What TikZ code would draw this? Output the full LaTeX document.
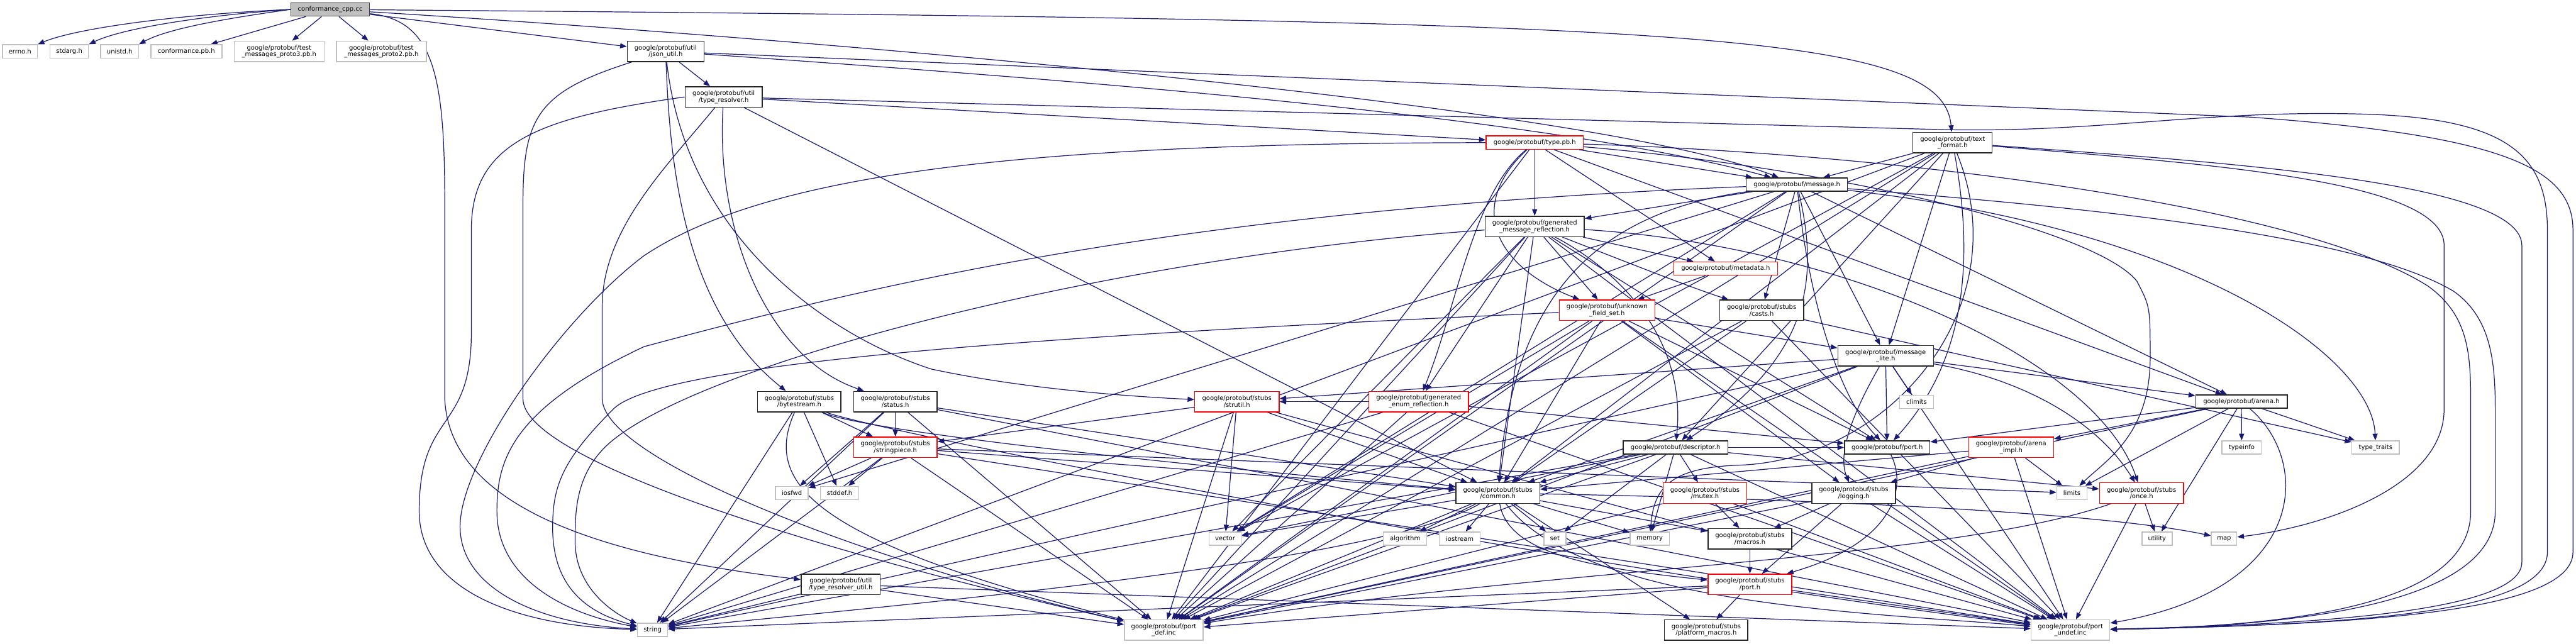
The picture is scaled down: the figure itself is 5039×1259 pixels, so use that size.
\documentclass[tikz,border=0pt]{standalone}
\usepackage{fontspec}
\setmainfont{DejaVu Sans}
\usetikzlibrary{arrows.meta,backgrounds}
\definecolor{edgec}{HTML}{191970}
\definecolor{extc}{HTML}{BFBFBF}
\definecolor{rootfill}{HTML}{BFBFBF}
\definecolor{rootline}{HTML}{404040}
\newcommand\nodefont{\fontsize{12.3pt}{13pt}\selectfont}
\begin{document}
\begin{tikzpicture}[x=1pt,y=-1pt,
  bx/.style={draw, fill=white, line width=1.8pt, inner xsep=1pt, inner ysep=0pt, align=center, font=\nodefont, minimum height=26pt},
  two/.style={minimum height=40pt},
  ext/.style={bx, draw=extc},
  blk/.style={bx, draw=black!85},
  rd/.style={bx, draw=red},
  root/.style={bx, draw=rootline, fill=rootfill},
  e/.style={draw=edgec, line width=1.5pt, -{Triangle[length=13pt,width=10pt]}}
]
\useasboundingbox (0,0) rectangle (5039,1259);
% ---------------- nodes
\node[root, minimum width=154pt] (conf) at (646,18.5) {conformance\_cpp.cc};
\node[ext, minimum width=68pt] (errno) at (39,100.5) {errno.h};
\node[ext, minimum width=75pt] (stdarg) at (135.5,100.5) {stdarg.h};
\node[ext, minimum width=74pt] (unistd) at (234,100.5) {unistd.h};
\node[ext, minimum width=139pt] (confpb) at (364.5,100.5) {conformance.pb.h};
\node[ext, two, minimum width=176pt] (proto3) at (546,100.5) {google/protobuf/test\\\_messages\_proto3.pb.h};
\node[ext, two, minimum width=176pt] (proto2) at (746,100.5) {google/protobuf/test\\\_messages\_proto2.pb.h};
\node[blk, two, minimum width=150pt] (jsonutil) at (1302,100.5) {google/protobuf/util\\/json\_util.h};
\node[blk, two, minimum width=151pt] (tres) at (1415.5,189.7) {google/protobuf/util\\/type\_resolver.h};
\node[rd, minimum width=190pt] (typepb) at (3002,279) {google/protobuf/type.pb.h};
\node[blk, minimum width=198pt] (message) at (3515,361) {google/protobuf/message.h};
\node[blk, two, minimum width=194pt] (genmsg) at (3002,443) {google/protobuf/generated\\\_message\_reflection.h};
\node[rd, minimum width=203pt] (metadata) at (3375.5,525.5) {google/protobuf/metadata.h};
\node[rd, two, minimum width=187pt] (ufs) at (3143.5,607) {google/protobuf/unknown\\\_field\_set.h};
\node[blk, two, minimum width=164pt] (casts) at (3446,607) {google/protobuf/stubs\\/casts.h};
\node[blk, two, minimum width=155pt] (textformat) at (3819.5,279) {google/protobuf/text\\\_format.h};
\node[blk, two, minimum width=163pt] (bytestream) at (1563.5,785.6) {google/protobuf/stubs\\/bytestream.h};
\node[blk, two, minimum width=163pt] (status) at (1751.5,785.6) {google/protobuf/stubs\\/status.h};
\node[rd, two, minimum width=163pt] (stringpiece) at (1751.5,875) {google/protobuf/stubs\\/stringpiece.h};
\node[ext, minimum width=64pt] (iosfwd) at (1549,964.3) {iosfwd};
\node[ext, minimum width=75pt] (stddef) at (1642.5,964.3) {stddef.h};
\node[rd, two, minimum width=165pt] (strutil) at (2419.5,785.6) {google/protobuf/stubs\\/strutil.h};
\node[ext, minimum width=63pt] (vector) at (2396.5,1053.5) {vector};
\node[blk, two, minimum width=155pt] (trutil) at (1644.5,1143) {google/protobuf/util\\/type\_resolver\_util.h};
\node[ext, minimum width=59pt] (string) at (1276.5,1232) {string};
\node[ext, two, minimum width=154pt] (portdef) at (2276.5,1232.5) {google/protobuf/port\\\_def.inc};
\node[blk, two, minimum width=187pt] (msglite) at (3688.5,696) {google/protobuf/message\\\_lite.h};
\node[ext, minimum width=66pt] (climits) at (3749,786) {climits};
\node[rd, two, minimum width=195pt] (genenum) at (2775,785.6) {google/protobuf/generated\\\_enum\_reflection.h};
\node[blk, minimum width=205pt] (descriptor) at (3277.5,875.3) {google/protobuf/descriptor.h};
\node[blk, minimum width=167pt] (port) at (3691.5,875.3) {google/protobuf/port.h};
\node[blk, two, minimum width=164pt] (common) at (2930,964.5) {google/protobuf/stubs\\/common.h};
\node[rd, two, minimum width=164pt] (mutex) at (3335,964.5) {google/protobuf/stubs\\/mutex.h};
\node[blk, two, minimum width=164pt] (logging) at (3626,964.5) {google/protobuf/stubs\\/logging.h};
\node[ext, minimum width=85pt] (algorithm) at (2748.5,1053.5) {algorithm};
\node[ext, minimum width=80pt] (iostream) at (2855.5,1053.5) {iostream};
\node[ext, minimum width=43pt] (set) at (3041.5,1053.5) {set};
\node[ext, minimum width=77pt] (memory) at (3227,1053.5) {memory};
\node[blk, two, minimum width=164pt] (macros) at (3423,1054) {google/protobuf/stubs\\/macros.h};
\node[rd, two, minimum width=164pt] (stubsport) at (3423,1143) {google/protobuf/stubs\\/port.h};
\node[blk, two, minimum width=163pt] (platform) at (3337.5,1232.5) {google/protobuf/stubs\\/platform\_macros.h};
\node[blk, minimum width=179pt] (arena) at (4384.5,785.6) {google/protobuf/arena.h};
\node[rd, two, minimum width=166pt] (arenaimpl) at (3934,875) {google/protobuf/arena\\\_impl.h};
\node[ext, minimum width=77pt] (typeinfo) at (4385,875.3) {typeinfo};
\node[ext, minimum width=93pt] (typetraits) at (4647,875.3) {type\_traits};
\node[ext, minimum width=59pt] (limits) at (4053,964.3) {limits};
\node[rd, two, minimum width=164pt] (once) at (4189,964.5) {google/protobuf/stubs\\/once.h};
\node[ext, minimum width=59pt] (utility) at (4219.5,1053.5) {utility};
\node[ext, minimum width=50pt] (map) at (4350.5,1053.5) {map};
\node[ext, two, minimum width=154pt] (portundef) at (4050,1232.5) {google/protobuf/port\\\_undef.inc};
% ---------------- edges
\begin{pgfonlayer}{background}
\fill[white] (0,0) rectangle (5039,1259);
% conf
\draw[e] (conf.west) .. controls (350,28) and (150,55) .. (errno.north east);
\draw[e] (conf.west) .. controls (400,30) and (240,55) .. (stdarg.north east);
\draw[e] (conf.west) .. controls (450,35) and (330,55) .. (unistd.north east);
\draw[e] (conf) -- (confpb);
\draw[e] (conf) -- (proto3);
\draw[e] (conf) -- (proto2);
\draw[e] (conf) -- (jsonutil);
\draw[e] (conf) .. controls (1500,70) and (3100,200) .. (message);
\draw[e] (conf) .. controls (3300,40) and (3800,60) .. (textformat);
\draw[e] (conf) .. controls (850,40) and (870,150) .. (870,400) -- (870,780) .. controls (880,1000) and (1200,1090) .. (trutil);
% json_util
\draw[e] (jsonutil) .. controls (2000,150) and (3000,220) .. (message);
\draw[e] (jsonutil) -- (tres);
\draw[e] (jsonutil) .. controls (1310,300) and (1330,600) .. (bytestream);
\draw[e] (jsonutil) .. controls (1340,450) and (1600,650) .. (1822,722) .. controls (2000,760) and (2200,775) .. (strutil);
\draw[e] (jsonutil) .. controls (1050,180) and (1023,230) .. (1023,400) -- (1023,780) .. controls (1023,900) and (1600,1080) .. (portdef);
\draw[e] (jsonutil) -- (4400,229) .. controls (4900,265) and (5033,330) .. (5033,450) -- (5033,1080) .. controls (5033,1200) and (4600,1222) .. (portundef);
% type_resolver
\draw[e] (tres.west) .. controls (1050,230) and (922,280) .. (922,450) -- (922,650) .. controls (922,850) and (820,800) .. (820,1000) .. controls (820,1150) and (1000,1225) .. (string);
\draw[e] (tres) -- (typepb);
\draw[e] (tres) -- (common);
\draw[e] (tres) .. controls (1400,450) and (1500,700) .. (status);
\draw[e] (tres) .. controls (1300,330) and (1178,450) .. (1178,600) -- (1178,780) .. controls (1180,900) and (1700,1100) .. (portdef);
\draw[e] (tres) -- (3780,253) .. controls (4100,262) and (4300,215) .. (4616,223) .. controls (4900,230) and (4983,300) .. (4983,450) -- (4983,1080) .. controls (4983,1200) and (4600,1222) .. (portundef);
% type.pb.h
\draw[e] (typepb.west) .. controls (2000,280) and (1500,340) .. (1260,500) .. controls (1100,620) and (900,900) .. (900,1030) .. controls (900,1150) and (1050,1220) .. (string);
\draw[e] (typepb) .. controls (3600,330) and (4100,450) .. (4180,550) .. controls (4206,600) .. (4206,700) .. controls (4206,850) and (4120,900) .. (limits);
\draw[e] (typepb) -- (portdef);
\draw[e] (typepb) .. controls (3700,300) and (4500,400) .. (4750,560) .. controls (4833,620) and (4833,700) .. (4833,800) -- (4833,1000) .. controls (4833,1180) and (4500,1225) .. (portundef);
\draw[e] (typepb) -- (arena);
\draw[e] (typepb) -- (metadata);
\draw[e] (typepb) -- (genmsg);
\draw[e] (typepb) -- (message);
\draw[e] (typepb) .. controls (2880,380) and (2850,600) .. (genenum);
\draw[e] (typepb) .. controls (2870,400) and (2920,520) .. (ufs);
% message.h
\draw[e] (message) -- (iosfwd);
\draw[e] (message) .. controls (2300,410) and (1700,560) .. (1260,678) .. controls (1000,800) and (972,900) .. (972,1000) .. controls (972,1130) and (1100,1200) .. (string);
\draw[e] (message) .. controls (4300,450) and (4640,700) .. (typetraits);
\draw[e] (message) -- (vector);
\draw[e] (message) -- (casts);
\draw[e] (message) .. controls (3100,420) and (2960,600) .. (common);
\draw[e] (message) -- (arena);
\draw[e] (message) .. controls (3560,550) and (3540,700) .. (descriptor);
\draw[e] (message) -- (genmsg);
\draw[e] (message) -- (msglite);
\draw[e] (message) .. controls (3540,600) and (3600,780) .. (port);
\draw[e] (message) -- (portdef);
\draw[e] (message) .. controls (4000,400) and (4600,450) .. (4800,570) .. controls (4870,620) and (4881,700) .. (4881,800) -- (4881,1000) .. controls (4881,1180) and (4500,1225) .. (portundef);
% generated_message_reflection.h
\draw[e] (genmsg) .. controls (2200,500) and (1400,700) .. (1200,860) .. controls (1125,920) and (1125,1000) .. (1125,1059) .. controls (1125,1150) and (1200,1200) .. (string);
\draw[e] (genmsg) -- (vector);
\draw[e] (genmsg) .. controls (3150,500) and (3300,560) .. (casts);
\draw[e] (genmsg) -- (common);
\draw[e] (genmsg) .. controls (3150,520) and (3300,650) .. (descriptor);
\draw[e] (genmsg) -- (genenum);
\draw[e] (genmsg) .. controls (3600,480) and (4100,700) .. (once);
\draw[e] (genmsg) -- (port);
\draw[e] (genmsg) -- (ufs);
\draw[e] (genmsg) -- (metadata);
\draw[e] (genmsg) -- (portdef);
\draw[e] (genmsg) -- (portundef);
% metadata
\draw[e] (metadata) -- (ufs);
% unknown_field_set.h
\draw[e] (ufs) .. controls (2200,650) and (1300,700) .. (1200,800) .. controls (1100,900) and (1081,950) .. (1081,1032) .. controls (1081,1150) and (1150,1200) .. (string);
\draw[e] (ufs) -- (vector);
\draw[e] (ufs) -- (common);
\draw[e] (ufs) -- (logging);
\draw[e] (ufs) -- (msglite);
\draw[e] (ufs) -- (port);
\draw[e] (ufs) -- (portdef);
\draw[e] (ufs) -- (portundef);
% casts.h
\draw[e] (casts) -- (common);
\draw[e] (casts) -- (typetraits);
\draw[e] (casts) -- (portdef);
\draw[e] (casts) -- (portundef);
% text_format.h
\draw[e] (textformat) .. controls (4300,320) and (4781,350) .. (4781,480) -- (4781,800) .. controls (4781,950) and (4550,1030) .. (map);
\draw[e] (textformat) .. controls (3950,600) and (3700,900) .. (3400,910) .. controls (3260,915) and (3235,960) .. (memory);
\draw[e] (textformat) -- (string);
\draw[e] (textformat) -- (vector);
\draw[e] (textformat) -- (common);
\draw[e] (textformat) -- (descriptor);
\draw[e] (textformat) -- (message);
\draw[e] (textformat) -- (msglite);
\draw[e] (textformat) .. controls (3860,500) and (3850,700) .. (port);
\draw[e] (textformat) -- (portdef);
\draw[e] (textformat) .. controls (4400,320) and (4933,360) .. (4933,480) -- (4933,1100) .. controls (4933,1200) and (4500,1222) .. (portundef);
% message_lite.h
\draw[e] (msglite) -- (climits);
\draw[e] (msglite) -- (string);
\draw[e] (msglite) -- (common);
\draw[e] (msglite) .. controls (3640,780) and (3590,880) .. (logging);
\draw[e] (msglite) -- (arena);
\draw[e] (msglite) .. controls (3950,740) and (4100,820) .. (once);
\draw[e] (msglite) -- (port);
\draw[e] (msglite) -- (strutil);
\draw[e] (msglite) -- (portdef);
\draw[e] (msglite) -- (portundef);
% generated_enum_reflection.h
\draw[e] (genenum) -- (string);
\draw[e] (genenum) -- (port);
\draw[e] (genenum) -- (strutil);
\draw[e] (genenum) -- (portdef);
\draw[e] (genenum) -- (portundef);
% descriptor.h
\draw[e] (descriptor) -- (memory);
\draw[e] (descriptor) -- (set);
\draw[e] (descriptor) -- (string);
\draw[e] (descriptor) -- (vector);
\draw[e] (descriptor) -- (common);
\draw[e] (descriptor) -- (mutex);
\draw[e] (descriptor) -- (once);
\draw[e] (descriptor) -- (port);
\draw[e] (descriptor) -- (portdef);
\draw[e] (descriptor) -- (portundef);
% port.h
\draw[e] (port) .. controls (3730,950) and (3710,1060) .. (stubsport);
% common.h
\draw[e] (common) -- (algorithm);
\draw[e] (common) -- (iostream);
\draw[e] (common) .. controls (3500,975) and (4100,1000) .. (map);
\draw[e] (common) -- (memory);
\draw[e] (common) -- (set);
\draw[e] (common) .. controls (2700,1100) and (1800,1180) .. (string);
\draw[e] (common) -- (vector);
\draw[e] (common) -- (macros);
\draw[e] (common) -- (platform);
\draw[e] (common) .. controls (2950,1080) and (3100,1110) .. (stubsport);
\draw[e] (common) -- (portdef);
\draw[e] (common) .. controls (3100,1190) and (3700,1200) .. (portundef);
% mutex.h
\draw[e] (mutex) -- (macros);
\draw[e] (mutex) -- (portdef);
\draw[e] (mutex) -- (portundef);
% logging.h
\draw[e] (logging) -- (macros);
\draw[e] (logging) -- (stubsport);
\draw[e] (logging) -- (portdef);
\draw[e] (logging) -- (portundef);
% macros.h, stubs/port.h
\draw[e] (macros) -- (stubsport);
\draw[e] (stubsport) -- (platform);
\draw[e] (stubsport) -- (string);
\draw[e] (stubsport) -- (portdef);
\draw[e] (stubsport) -- (portundef);
% arena.h
\draw[e] (arena) -- (limits);
\draw[e] (arena) -- (typetraits);
\draw[e] (arena) -- (utility);
\draw[e] (arena) -- (typeinfo);
\draw[e] (arena) -- (arenaimpl);
\draw[e] (arena) -- (port);
\draw[e] (arena) -- (portdef);
\draw[e] (arena) .. controls (4520,900) and (4520,1150) .. (portundef);
% arena_impl.h
\draw[e] (arenaimpl) -- (limits);
\draw[e] (arenaimpl) -- (common);
\draw[e] (arenaimpl) -- (logging);
\draw[e] (arenaimpl) -- (portdef);
\draw[e] (arenaimpl) -- (portundef);
% once.h
\draw[e] (once) -- (utility);
\draw[e] (once) .. controls (3800,1100) and (3000,1110) .. (portdef);
\draw[e] (once) -- (portundef);
% strutil.h
\draw[e] (strutil) -- (vector);
\draw[e] (strutil) -- (common);
\draw[e] (strutil) -- (stringpiece);
\draw[e] (strutil) -- (portdef);
\draw[e] (strutil) -- (portundef);
% stringpiece.h
\draw[e] (stringpiece) -- (iosfwd);
\draw[e] (stringpiece) -- (stddef);
\draw[e] (stringpiece) -- (limits);
\draw[e] (stringpiece) -- (string);
\draw[e] (stringpiece) -- (common);
\draw[e] (stringpiece) -- (portdef);
\draw[e] (stringpiece) -- (portundef);
% status.h
\draw[e] (status) -- (iosfwd);
\draw[e] (status) -- (string);
\draw[e] (status) -- (common);
\draw[e] (status) -- (stringpiece);
\draw[e] (status) -- (portdef);
\draw[e] (status) -- (portundef);
% bytestream.h
\draw[e] (bytestream) -- (stddef);
\draw[e] (bytestream) -- (string);
\draw[e] (bytestream) .. controls (1680,840) and (2200,900) .. (common);
\draw[e] (bytestream) -- (stringpiece);
\draw[e] (bytestream) .. controls (1490,950) and (1600,1060) .. (portdef);
\draw[e] (bytestream) .. controls (1700,840) and (3000,1100) .. (portundef);
% type_resolver_util.h
\draw[e] (trutil) -- (string);
\draw[e] (trutil) -- (portdef);
\draw[e] (trutil) -- (portundef);
\end{pgfonlayer}
\end{tikzpicture}
\end{document}
